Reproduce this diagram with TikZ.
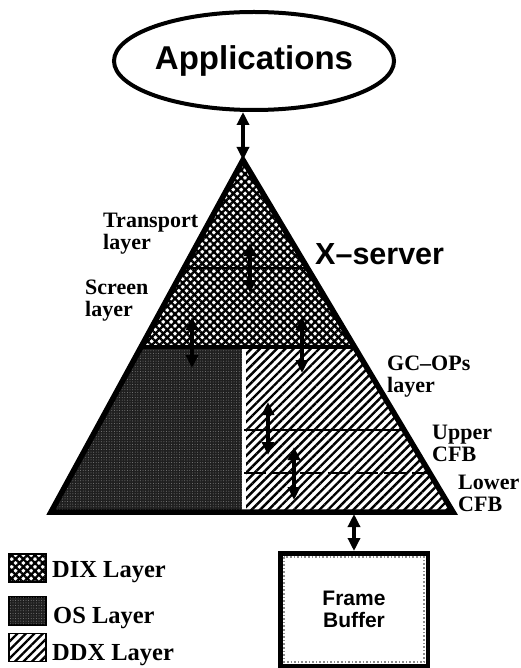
\documentclass[tikz,border=0pt]{standalone}
\usepackage{fontspec}
\setmainfont{Liberation Serif}
\newfontfamily\hv{Liberation Sans}
\usetikzlibrary{arrows.meta,patterns.meta,shapes.geometric}
\begin{document}
\begin{tikzpicture}[x=1pt,y=-1pt,
  dar/.style={line width=3.8pt,{Triangle[length=13pt,width=12pt]}-{Triangle[length=13pt,width=12pt]}},
  lbl/.style={anchor=north west,inner sep=0pt,align=left,font=\bfseries\fontsize{22}{21.5}\selectfont},
  leg/.style={anchor=base west,inner sep=0pt,font=\bfseries\fontsize{24.5}{24}\selectfont},
  dix/.style={pattern={Hatch[angle=45,distance=5.5pt,line width=2.3pt]}},
  ddx/.style={pattern={Lines[angle=45,distance=6pt,line width=2.4pt]}},
  osfill/.style={fill=black!88,postaction={pattern={Dots[radius=0.5pt,distance=2.6pt]},pattern color=black!50}},
  swatch/.style={draw,line width=1.8pt,minimum width=37pt,minimum height=28pt,inner sep=0pt}]
\useasboundingbox (0,0) rectangle (520,668);
\coordinate (apex) at (243,160);
\coordinate (bl) at (51,512);
\coordinate (br) at (453,512);
\node[ellipse,draw,line width=4pt,minimum width=262pt,minimum height=98pt,inner sep=0pt,
  font=\hv\bfseries\fontsize{33}{36}\selectfont] (app) at (254,61) {Applications};
\begin{scope}
\clip (apex) -- (bl) -- (br) -- cycle;
\fill[white] (0,150) rectangle (520,520);
\path[dix] (0,150) rectangle (520,347);
\path[osfill] (0,347) rectangle (244,520);
\path[ddx] (244,347) rectangle (520,520);
\draw[line width=2.2pt] (0,268) -- (520,268);
\draw[white,line width=3.5pt] (244,347) -- (244,520);
\draw[line width=2.5pt] (244,430) -- (520,430);
\draw[line width=2.5pt,dash pattern=on 22pt off 6pt] (244,473) -- (520,473);
\draw[line width=4.5pt] (0,347) -- (520,347);
\end{scope}
\draw[line width=5.5pt,line join=miter] (apex) -- (bl) -- (br) -- cycle;
% labels
\node[lbl] (ltr) at (103,213) {Transport\\layer};
\node[lbl] (lsc) at (85,280) {Screen\\layer};
\node[lbl] (lgc) at (387,356) {GC–OPs\\layer};
\node[lbl] (lup) at (432,425) {Upper\\CFB};
\node[lbl] (llo) at (458,475) {Lower\\CFB};
\node[font=\hv\bfseries\fontsize{30.5}{30}\selectfont,anchor=north west,inner sep=0pt] (xs) at (315,243) {X–server};
% arrows
\coordinate (a1t) at (250,243); \coordinate (a1b) at (250,293);
\coordinate (a2t) at (192,317); \coordinate (a2b) at (192,368);
\coordinate (a3t) at (302,317); \coordinate (a3b) at (302,373);
\coordinate (a4t) at (268,402); \coordinate (a4b) at (268,455);
\coordinate (a5t) at (294,447); \coordinate (a5b) at (294,500);
\coordinate (fbt) at (354,514);
\draw[dar] (app.south -| apex) -- (apex);
\draw[dar] (a1t) -- (a1b);
\draw[dar] (a2t) -- (a2b);
\draw[dar] (a3t) -- (a3b);
\draw[dar] (a4t) -- (a4b);
\draw[dar] (a5t) -- (a5b);
% frame buffer
\node[draw,line width=4.5pt,minimum width=147.5pt,minimum height=112.5pt,inner sep=0pt,align=center,
  font=\hv\bfseries\fontsize{21}{22}\selectfont] (fb) at (354,609.5) {Frame\\Buffer};
\draw[black!45,line width=1.6pt,dotted] ([shift={(6,6)}]fb.north west) rectangle ([shift={(-6,-6)}]fb.south east);
\draw[dar] (fbt) -- (fb.north);
% legend
\node[swatch,dix] (sdix) at (27.5,568) {};
\node[leg] (tdix) at (52,577) {DIX Layer};
\node[swatch,osfill] (sos) at (27.5,611) {};
\node[leg] (tos) at (53,623) {OS Layer};
\node[swatch,ddx] (sddx) at (27.5,647.5) {};
\node[leg] (tddx) at (52,660) {DDX Layer};
\end{tikzpicture}
\end{document}
